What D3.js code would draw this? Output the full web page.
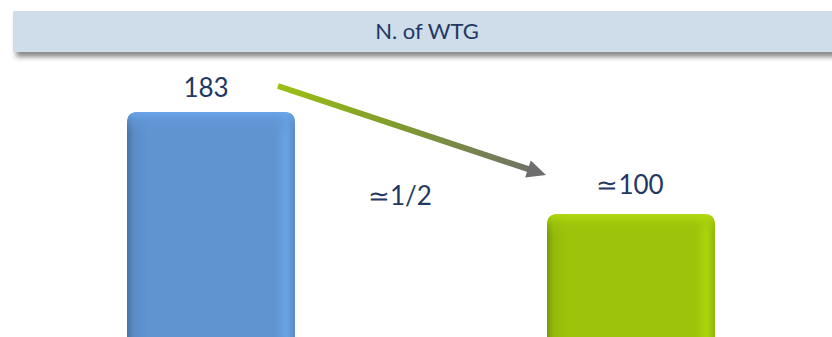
<!DOCTYPE html>
<html>
<head>
<meta charset="utf-8">
<script src="https://cdn.jsdelivr.net/npm/d3@7"></script>
<style>
  html, body { margin: 0; padding: 0; background: #ffffff; }
  svg { display: block; }
</style>
</head>
<body>
<svg id="chart" width="832" height="337"></svg>
<script>
// Number of wind turbine generators, before and after
const categories = ["Existing", "Repowered"];
const turbineCounts = [183, 100];
const valueLabels = ["183", "\u2243100"];
const barColors = ["#5f94d1", "#9dc30b"];
const title = "N. of WTG";
const ratioLabel = "\u22431/2";

const W = 832, H = 337;
const svg = d3.select("#chart");
const defs = svg.append("defs");

const textColor = "#1f3864";
const fontFamily = "Lato, 'Open Sans', sans-serif";

// Soft shadow under the title band
const shadow = defs.append("filter").attr("id", "bandShadow")
  .attr("x", "-5%").attr("y", "-30%").attr("width", "115%").attr("height", "180%");
shadow.append("feDropShadow")
  .attr("dx", 3).attr("dy", 5).attr("stdDeviation", 2.5)
  .attr("flood-color", "#000").attr("flood-opacity", 0.45);

// Title band (runs past the right edge)
const bandX0 = 13, bandX1 = 841;
svg.append("rect")
  .attr("x", bandX0).attr("y", 11).attr("width", bandX1 - bandX0).attr("height", 41)
  .attr("fill", "#cfdce9")
  .attr("filter", "url(#bandShadow)");
svg.append("text")
  .attr("x", (bandX0 + bandX1) / 2).attr("y", 39)
  .attr("text-anchor", "middle")
  .attr("font-family", fontFamily)
  .attr("font-size", 22)
  .attr("fill", textColor)
  .text(title);

// Scales
const x = d3.scalePoint().domain(categories).range([211, 631]);
const y = d3.scaleLinear().domain([0, d3.max(turbineCounts)]).range([337, 112]);
const barW = 168, r = 11;

// Bevelled look: darker left edge, lighter right edge, bright top lip
barColors.forEach((c, i) => {
  const base = d3.color(c);
  const g = defs.append("linearGradient").attr("id", "barGrad" + i)
    .attr("x1", "0%").attr("x2", "100%").attr("y1", "0%").attr("y2", "0%");
  [[0, base.darker(0.7)], [0.04, base.darker(0.15)], [0.12, base], [0.88, base],
   [0.95, base.brighter(0.25)], [1, base.darker(0.2)]]
    .forEach(([o, col]) => g.append("stop").attr("offset", o).attr("stop-color", col));
  const gv = defs.append("linearGradient").attr("id", "barTop" + i)
    .attr("x1", "0%").attr("x2", "0%").attr("y1", "0%").attr("y2", "100%");
  [[0, base.brighter(0.35), 0.9], [0.5, base.brighter(0.1), 0.4], [1, base, 0]]
    .forEach(([o, col, op]) => gv.append("stop").attr("offset", o)
      .attr("stop-color", col).attr("stop-opacity", op));
});

function barPath(cx, top, bottom) {
  const x0 = cx - barW / 2, x1 = cx + barW / 2;
  return `M${x0},${bottom} L${x0},${top + r} Q${x0},${top} ${x0 + r},${top}
          L${x1 - r},${top} Q${x1},${top} ${x1},${top + r} L${x1},${bottom} Z`;
}

const bars = svg.append("g").selectAll("g")
  .data(turbineCounts)
  .join("g");

bars.append("path")
  .attr("d", (d, i) => barPath(x(categories[i]), y(d), H + 2))
  .attr("fill", (d, i) => `url(#barGrad${i})`);

bars.append("path")
  .attr("d", (d, i) => {
    const cx = x(categories[i]), t = y(d);
    return barPath(cx, t, t + 22);
  })
  .attr("fill", (d, i) => `url(#barTop${i})`);

// Value labels
const labelOffsets = [15, 20];
const labelShift = [-5, -1];
svg.append("g").selectAll("text")
  .data(turbineCounts)
  .join("text")
  .attr("x", (d, i) => x(categories[i]) + labelShift[i])
  .attr("y", (d, i) => y(d) - labelOffsets[i])
  .attr("text-anchor", "middle")
  .attr("font-family", fontFamily)
  .attr("font-size", 26)
  .attr("fill", textColor)
  .text((d, i) => valueLabels[i]);

// Trend arrow from the first bar to the second
const ax0 = x(categories[0]) + 67, ay0 = y(turbineCounts[0]) - 26;
const ax1 = x(categories[1]) - 85, ay1 = y(turbineCounts[1]) - 39;
const arrowGrad = defs.append("linearGradient").attr("id", "arrowGrad")
  .attr("gradientUnits", "userSpaceOnUse")
  .attr("x1", ax0).attr("y1", ay0).attr("x2", ax1).attr("y2", ay1);
arrowGrad.append("stop").attr("offset", 0).attr("stop-color", "#9cc012");
arrowGrad.append("stop").attr("offset", 0.45).attr("stop-color", "#7f9a2e");
arrowGrad.append("stop").attr("offset", 1).attr("stop-color", "#6e6e6e");

const ang = Math.atan2(ay1 - ay0, ax1 - ax0);
const headLen = 19, headHalf = 9;
const bx = ax1 - headLen * Math.cos(ang), by = ay1 - headLen * Math.sin(ang);
svg.append("line")
  .attr("x1", ax0).attr("y1", ay0)
  .attr("x2", bx + 2 * Math.cos(ang)).attr("y2", by + 2 * Math.sin(ang))
  .attr("stroke", "url(#arrowGrad)")
  .attr("stroke-width", 6);
svg.append("path")
  .attr("d", `M${ax1},${ay1}
    L${bx - headHalf * Math.sin(ang)},${by + headHalf * Math.cos(ang)}
    L${bx + headHalf * Math.sin(ang)},${by - headHalf * Math.cos(ang)} Z`)
  .attr("fill", "#6e6e6e");

// Ratio note between the bars
svg.append("text")
  .attr("x", 400).attr("y", 205)
  .attr("text-anchor", "middle")
  .attr("font-family", fontFamily)
  .attr("font-size", 26)
  .attr("fill", textColor)
  .text(ratioLabel);
</script>
</body>
</html>
